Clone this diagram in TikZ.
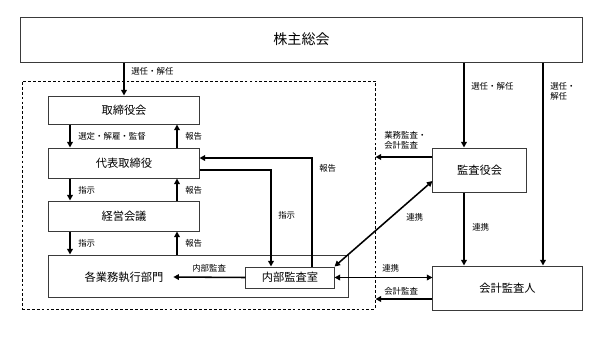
\documentclass[tikz,border=0pt]{standalone}
\usepackage{fontspec}
\newfontfamily\jpfont{Noto Sans CJK JP}
\definecolor{BoxLine}{HTML}{3A3A3A}
\usetikzlibrary{positioning,arrows.meta,calc}

\begin{document}
\begin{tikzpicture}[x=0.025cm, y=-0.025cm, font=\jpfont,
    box/.style={draw=BoxLine, line width=0.7pt, fill=white, inner sep=0pt,
                font=\jpfont\fontsize{8}{9}\selectfont},
    arr/.style={line width=1.1pt, -{Triangle[length=4pt,width=4pt]}},
    dbl/.style={line width=1.1pt, {Triangle[length=4pt,width=4pt]}-{Triangle[length=4pt,width=4pt]}},
    lbl/.style={anchor=west, inner sep=0pt, align=left,
                font=\jpfont\fontsize{6}{7.2}\selectfont}]
  \useasboundingbox (0,0) rectangle (600,338);

  % boxes
  \node[draw=black, dashed, dash pattern=on 2pt off 1.5pt, line width=0.6pt,
        minimum width=8.825cm, minimum height=5.7cm] (grp) at (198.5,195) {};
  \node[box, minimum width=14.025cm, minimum height=1.125cm,
        font=\jpfont\fontsize{10}{12}\selectfont] (gsm) at (301.5,39.5) {株主総会};
  \node[box, minimum width=3.75cm, minimum height=0.7cm] (bod) at (124,110) {取締役会};
  \node[box, minimum width=3.75cm, minimum height=0.75cm] (rep) at (124,163) {代表取締役};
  \node[box, minimum width=3.75cm, minimum height=0.75cm] (mgt) at (124,216) {経営会議};
  \node[box, minimum width=7.475cm, minimum height=1.05cm] (ops) at (198.5,276) {};
  \node[font=\jpfont\fontsize{8}{9}\selectfont] (opsl) at (124,277) {各業務執行部門};
  \node[box, minimum width=2.2cm, minimum height=0.525cm] (ia) at (290,277.5) {内部監査室};
  \node[box, minimum width=2.325cm, minimum height=1.1cm] (ac) at (479.5,170) {監査役会};
  \node[box, minimum width=3.725cm, minimum height=1.1cm] (ea) at (507.5,288) {会計監査人};

  \coordinate (lx) at (70,0);
  \coordinate (rx) at (177,0);
  \coordinate (ix) at (271,0);
  \coordinate (iy) at (312,0);
  \coordinate (ax) at (464,0);
  \coordinate (bx) at (543,0);

  % left column
  \draw[arr] (gsm.south -| bod.north) -- (bod.north);
  \draw[arr] (bod.south -| lx) -- (rep.north -| lx);
  \draw[arr] (rep.north -| rx) -- (bod.south -| rx);
  \draw[arr] (rep.south -| lx) -- (mgt.north -| lx);
  \draw[arr] (mgt.north -| rx) -- (rep.south -| rx);
  \draw[arr] (mgt.south -| lx) -- (ops.north -| lx);
  \draw[arr] (ops.north -| rx) -- (mgt.south -| rx);

  % internal audit
  \draw[arr] ($(rep.east)+(0,7)$) -| (ia.north -| ix);
  \draw[arr] (ia.north -| iy) |- ($(rep.east)+(0,-5)$);
  \draw[arr] (ia.west) -- ($(opsl.east)+(5,0)$);

  % auditors
  \draw[arr] (gsm.south -| ax) -- (ac.north -| ax);
  \draw[arr] (ac.south -| ax) -- (ea.north -| ax);
  \draw[arr] (gsm.south -| bx) -- (ea.north -| bx);
  \draw[arr] ($(ac.west)+(0,-13)$) -- (grp.east |- {$(ac.west)+(0,-13)$});
  \draw[arr] ($(ea.west)+(0,11)$) -- (grp.east |- {$(ea.west)+(0,11)$});
  \draw[dbl] ($(ac.west)+(0,11)$) -- (ia.north east);
  \draw[dbl] (ia.east) -- (ea.west |- ia.east);

  % labels
  \node[lbl] (l1) at (131,71) {選任・解任};
  \node[lbl] (l2) at (78,136) {選定・解雇・監督};
  \node[lbl] (l3) at (185,136) {報告};
  \node[lbl] (l4) at (78,190) {指示};
  \node[lbl] (l5) at (185,190) {報告};
  \node[lbl] (l6) at (78,243) {指示};
  \node[lbl] (l7) at (185,243) {報告};
  \node[lbl] (l8) at (278,215) {指示};
  \node[lbl] (l9) at (319,168) {報告};
  \node[lbl] (l10) at (192,268) {内部監査};
  \node[lbl] (l11) at (384,140) {業務監査・\\会計監査};
  \node[lbl] (l12) at (406,217) {連携};
  \node[lbl] (l13) at (382,268) {連携};
  \node[lbl] (l14) at (384,291) {会計監査};
  \node[lbl] (l15) at (471,86) {選任・解任};
  \node[lbl] (l16) at (550,91) {選任・\\解任};
  \node[lbl] (l17) at (472,227) {連携};
\end{tikzpicture}
\end{document}
